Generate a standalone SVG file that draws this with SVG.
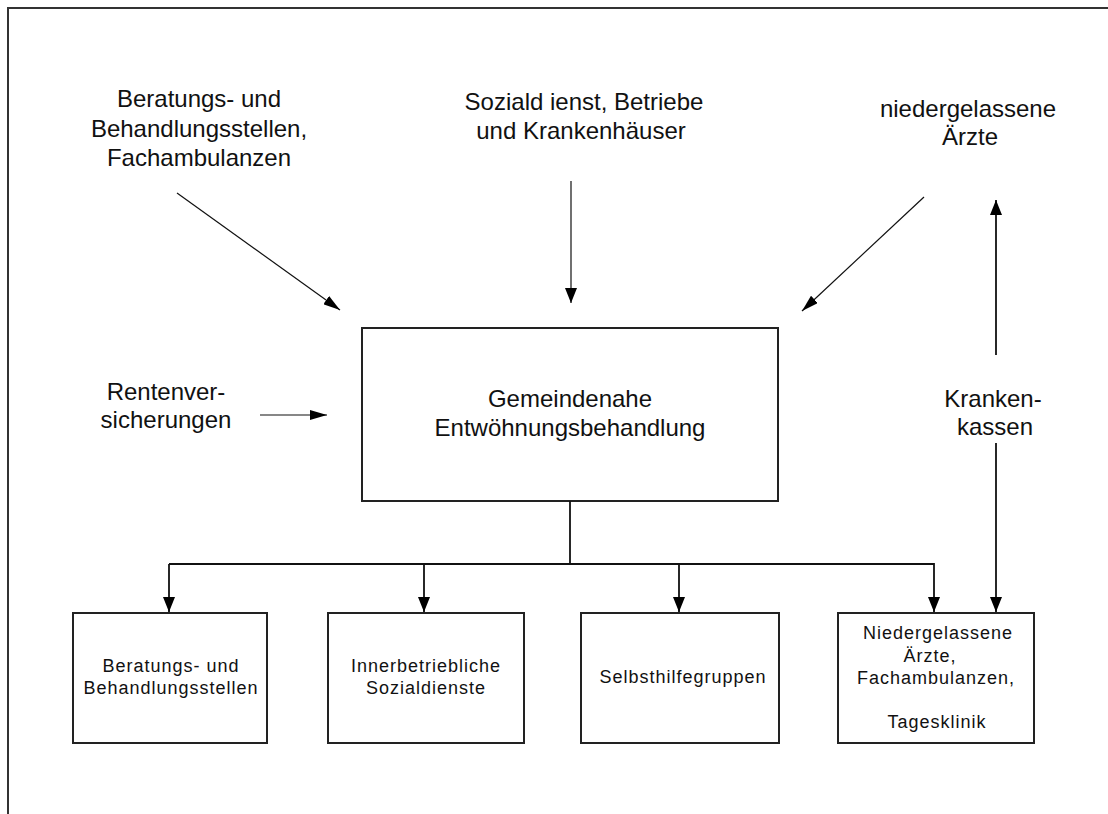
<svg xmlns="http://www.w3.org/2000/svg" width="1108" height="814" viewBox="0 0 1108 814">
<style>
text{font-family:"Liberation Sans",Arial,sans-serif;fill:#111;text-anchor:middle}
.big{font-size:24px}
.sm{font-size:18px;letter-spacing:1px}
.box{fill:#fff;stroke:#222;stroke-width:2}
.ln{stroke:#111;fill:none}
.thin{stroke-width:1.2}
.thick{stroke-width:1.8}
</style>
<defs>
<marker id="ah" viewBox="0 0 15 12" refX="15" refY="6" markerWidth="15" markerHeight="12" markerUnits="userSpaceOnUse" orient="auto"><path d="M0,0 L15,6 L0,12 z" fill="#000"/></marker>
<marker id="ahs" viewBox="0 0 17 10" refX="17" refY="5" markerWidth="17" markerHeight="10" markerUnits="userSpaceOnUse" orient="auto"><path d="M0,0 L17,5 L0,10 z" fill="#000"/></marker>
</defs>
<rect width="1108" height="814" fill="#fff"/>
<path d="M8,814 V8 H1108" fill="none" stroke="#333" stroke-width="2"/>

<g id="src-beratung">
<text class="big" x="199" y="107">Beratungs- und</text>
<text class="big" x="199" y="137">Behandlungsstellen,</text>
<text class="big" x="199" y="166">Fachambulanzen</text>
</g>
<g id="src-sozialdienst">
<text class="big" x="584" y="110">Soziald ienst, Betriebe</text>
<text class="big" x="581" y="139">und Krankenhäuser</text>
</g>
<g id="src-aerzte">
<text class="big" x="968" y="117">niedergelassene</text>
<text class="big" x="970" y="145">Ärzte</text>
</g>
<g id="src-renten">
<text class="big" x="166" y="400">Rentenver-</text>
<text class="big" x="166" y="428">sicherungen</text>
</g>
<g id="krankenkassen">
<text class="big" x="993" y="407">Kranken-</text>
<text class="big" x="995" y="435">kassen</text>
</g>

<g id="main">
<rect class="box" x="362" y="328" width="416" height="173"/>
<text class="big" x="570" y="407">Gemeindenahe</text>
<text class="big" x="570" y="436">Entwöhnungsbehandlung</text>
</g>

<g id="t-beratung">
<rect class="box" x="73" y="613" width="194" height="130"/>
<text class="sm" x="171" y="672">Beratungs- und</text>
<text class="sm" x="171" y="694">Behandlungsstellen</text>
</g>
<g id="t-innerbetrieblich">
<rect class="box" x="328" y="613" width="196" height="130"/>
<text class="sm" x="426" y="672">Innerbetriebliche</text>
<text class="sm" x="426" y="694">Sozialdienste</text>
</g>
<g id="t-selbsthilfe">
<rect class="box" x="581" y="613" width="198" height="130"/>
<text class="sm" x="683" y="683">Selbsthilfegruppen</text>
</g>
<g id="t-aerzte">
<rect class="box" x="838" y="613" width="196" height="130"/>
<text class="sm" x="938" y="639">Niedergelassene</text>
<text class="sm" x="930" y="662">Ärzte,</text>
<text class="sm" x="936" y="684">Fachambulanzen,</text>
<text class="sm" x="937" y="728">Tagesklinik</text>
</g>

<g id="connectors">
<line class="ln thin" x1="177" y1="193" x2="340" y2="310" marker-end="url(#ahs)"/>
<line class="ln thin" x1="571" y1="181" x2="571" y2="303" marker-end="url(#ah)"/>
<line class="ln thin" x1="924" y1="197" x2="802" y2="311" marker-end="url(#ahs)"/>
<line class="ln thin" x1="260" y1="415" x2="327" y2="415" marker-end="url(#ahs)"/>
<line class="ln thick" x1="996" y1="355" x2="996" y2="200" marker-end="url(#ah)"/>
<line class="ln thick" x1="996" y1="443" x2="996" y2="612" marker-end="url(#ah)"/>
<line class="ln thick" x1="570" y1="501" x2="570" y2="564"/>
<path class="ln thick" d="M169,564 H934 V612" marker-end="url(#ah)"/>
<line class="ln thick" x1="169" y1="564" x2="169" y2="612" marker-end="url(#ah)"/>
<line class="ln thick" x1="424" y1="564" x2="424" y2="612" marker-end="url(#ah)"/>
<line class="ln thick" x1="679" y1="564" x2="679" y2="612" marker-end="url(#ah)"/>
</g>
</svg>
